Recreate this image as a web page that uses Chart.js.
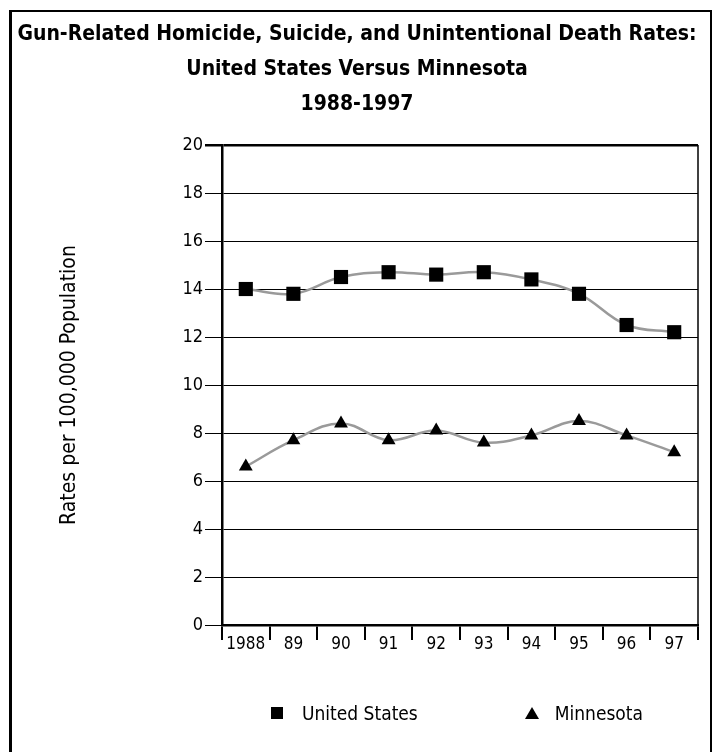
<!DOCTYPE html>
<html>
<head>
<meta charset="utf-8">
<script src="https://cdn.jsdelivr.net/npm/chart.js@4/dist/chart.umd.min.js"></script>
<style>
  html, body { margin: 0; padding: 0; background: #fff; }
  body { width: 713px; height: 752px; position: relative; overflow: hidden; }
  #frame {
    position: absolute; left: 9px; top: 10px; width: 698px; height: 800px;
    border-left: 3px solid #000; border-top: 2px solid #000; border-right: 2px solid #000;
  }
  #chart { position: absolute; left: 0; top: 0; }
  #legend {
    position: absolute; left: 271px; top: 700px; height: 26px;
    display: flex; align-items: center;
    font-family: 'Liberation Sans Narrow', 'DejaVu Sans Condensed', 'Arial Narrow', sans-serif;
    font-size: 19px; color: #000;
  }
  .item { display: flex; align-items: center; margin-right: 107px; }
  .item:last-child { margin-right: 0; }
  .mark.rect { width: 12px; height: 12px; background: #000; margin-right: 19px; }
  .mark.triangle { width: 0; height: 0; border-left: 7px solid transparent; border-right: 7px solid transparent; border-bottom: 12px solid #000; margin-right: 16px; }
</style>
</head>
<body>
<div id="frame"></div>
<canvas id="chart" width="713" height="752"></canvas>
<div id="legend"></div>
<script>
const years = ['1988', '89', '90', '91', '92', '93', '94', '95', '96', '97'];
const unitedStates = [14.0, 13.8, 14.5, 14.7, 14.6, 14.7, 14.4, 13.8, 12.5, 12.2];
const minnesota = [6.6, 7.7, 8.4, 7.7, 8.1, 7.6, 7.9, 8.5, 7.9, 7.2];
const titleLines = [
  'Gun-Related Homicide, Suicide, and Unintentional Death Rates:',
  'United States Versus Minnesota',
  '1988-1997'
];
const yTitle = 'Rates per 100,000 Population';

const narrow = "'Liberation Sans Narrow', 'DejaVu Sans Condensed', 'Arial Narrow', sans-serif";

// right edge of the plot box
const plotBorder = {
  id: 'plotBorder',
  afterDraw(chart) {
    const { ctx, chartArea: a } = chart;
    ctx.save();
    ctx.strokeStyle = '#000';
    ctx.lineWidth = 1.5;
    ctx.beginPath();
    ctx.moveTo(a.right, a.top);
    ctx.lineTo(a.right, a.bottom);
    ctx.stroke();
    ctx.restore();
  }
};

const chart = new Chart(document.getElementById('chart'), {
  type: 'line',
  data: {
    labels: years,
    datasets: [
      {
        label: 'United States',
        data: unitedStates,
        borderColor: '#9a9a9a',
        borderWidth: 2.5,
        tension: 0.4,
        pointStyle: 'rect',
        pointRadius: 10,
        pointBackgroundColor: '#000',
        pointBorderColor: '#000',
        pointBorderWidth: 0
      },
      {
        label: 'Minnesota',
        data: minnesota,
        borderColor: '#9a9a9a',
        borderWidth: 2.5,
        tension: 0.4,
        pointStyle: 'triangle',
        pointRadius: 8,
        pointBackgroundColor: '#000',
        pointBorderColor: '#000',
        pointBorderWidth: 0
      }
    ]
  },
  options: {
    responsive: false,
    animation: false,
    devicePixelRatio: 1,
    layout: { padding: { left: 16, right: 15, top: 0, bottom: 0 } },
    plugins: {
      legend: { display: false },
      tooltip: { enabled: false },
      title: {
        display: true,
        text: titleLines,
        color: '#000',
        font: { family: narrow, size: 21, weight: 'bold', lineHeight: 1.667 },
        padding: { top: 17, bottom: 23 }
      }
    },
    scales: {
      x: {
        offset: true,
        grid: {
          offset: true,
          drawOnChartArea: false,
          color: '#000',
          lineWidth: 2,
          tickLength: 15
        },
        border: { color: '#000', width: 2.5 },
        ticks: { color: '#000', font: { family: narrow, size: 17 }, padding: -6, maxRotation: 0, autoSkip: false },
        afterFit(scale) { scale.height = 127; }
      },
      y: {
        min: 0,
        max: 20,
        ticks: { stepSize: 2, color: '#000', font: { family: narrow, size: 18 }, padding: 2 },
        grid: {
          color: '#000',
          lineWidth: ctx => (ctx.tick && ctx.tick.value === 20 ? 2.5 : 1),
          tickLength: 17
        },
        border: { color: '#000', width: 2.5 },
        title: {
          display: true,
          text: yTitle,
          color: '#000',
          font: { family: narrow, size: 21 },
          padding: { top: 41, bottom: 0 }
        },
        afterFit(scale) { scale.width = 206; }
      }
    }
  },
  plugins: [plotBorder]
});

// legend built from the chart's datasets
const legendEl = document.getElementById('legend');
chart.data.datasets.forEach(ds => {
  const item = document.createElement('div');
  item.className = 'item';
  const mark = document.createElement('span');
  mark.className = 'mark ' + ds.pointStyle;
  const text = document.createElement('span');
  text.textContent = ds.label;
  item.appendChild(mark);
  item.appendChild(text);
  legendEl.appendChild(item);
});
</script>
</body>
</html>
